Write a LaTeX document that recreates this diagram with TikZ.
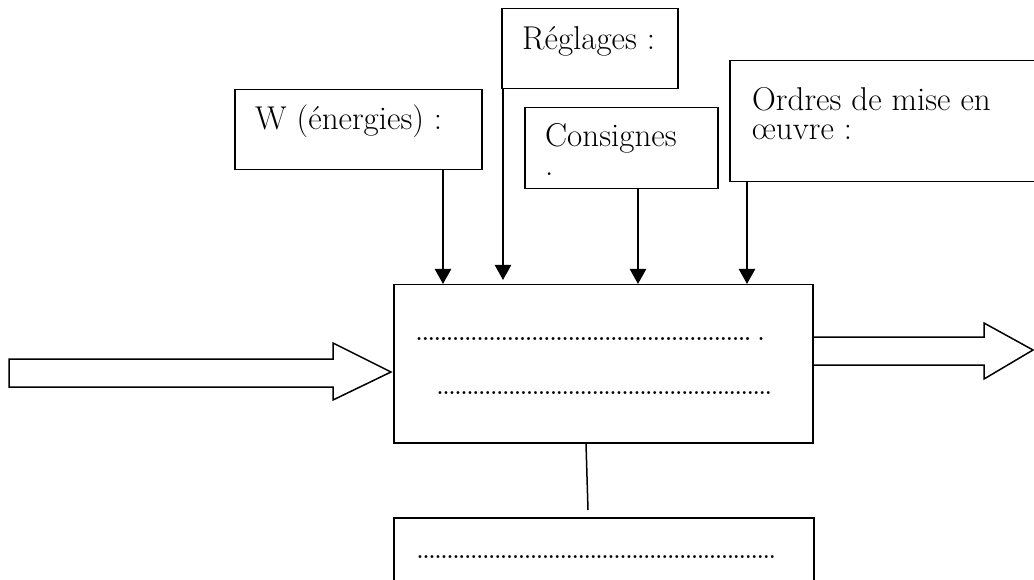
\documentclass[tikz,border=0pt]{standalone}
\usepackage{fontspec}
\usetikzlibrary{arrows.meta,calc}
\tikzset{
  box/.style={draw, line width=1.5pt, rectangle, inner sep=0pt, anchor=north west},
  lbl/.style={font=\fontsize{33}{29}\selectfont, inner sep=0pt, align=left, anchor=base west},
  arr/.style={line width=2.4pt, -{Triangle[width=16pt,length=15pt]}},
  hollow/.style={draw, line width=1.5pt, line join=miter},
  link/.style={draw, line width=1.5pt},
  dotrow/.style={inner sep=0pt, anchor=west, font=\bfseries}
}
\begin{document}
\begin{tikzpicture}[x=1pt,y=-1pt]
\useasboundingbox (0,0) rectangle (1034,580);
\clip (0,0) rectangle (1034,580);
\fill[white] (0,0) rectangle (1034,580);
% boxes
\node[box, minimum width=419pt, minimum height=158pt] (main) at (393,284) {};
\node[box, minimum width=247pt, minimum height=80pt] (wbox) at (234,89) {};
\node[box, minimum width=176pt, minimum height=80pt] (reg) at (501,8) {};
\node[box, minimum width=193pt, minimum height=81pt] (cons) at (524,107) {};
\node[box, minimum width=320pt, minimum height=121pt] (ord) at (729,60) {};
\node[box, minimum width=420pt, minimum height=90pt] (bot) at (393,517) {};
% labels (base = baseline of last line)
\node[lbl] (tw) at (255,130) {W (énergies) :};
\node[lbl] (tr) at (522,50) {Réglages :};
\node[lbl] (tc) at (545,176) {Consignes\\.};
\node[lbl] (to) at (752,140) {Ordres de mise en\\œuvre :};
% dotted texts
\node[dotrow] (d1) at (416,339) {\resizebox{348pt}{!}{.......................................................\ .}};
\node[dotrow] (d2) at (437,393) {\resizebox{334pt}{!}{........................................................}};
\node[dotrow] (d3) at (417,557) {\resizebox{358pt}{!}{............................................................}};
% vertical arrows
\coordinate (x1) at (443,0);
\coordinate (x2) at (503,0);
\coordinate (x3) at (638,0);
\coordinate (x4) at (747,0);
\draw[arr] (wbox.south -| x1) -- (main.north -| x1);
\draw[arr] (reg.south -| x2) -- ($(main.north -| x2)+(0,-4)$);
\draw[arr] (cons.south -| x3) -- (main.north -| x3);
\draw[arr] (ord.south -| x4) -- (main.north -| x4);
% link to bottom box
\coordinate (c1) at (586,0);
\coordinate (c2) at (588,0);
\draw[link] (main.south -| c1) -- ($(bot.north -| c2)+(0,-7)$);
% hollow input arrow
\coordinate (inTail) at (9,373);
\coordinate (inTip) at (391,372);
\draw[hollow] ($(inTail)+(0,-14)$) -- ($(inTip)+(-58,-13)$) -- ($(inTip)+(-58,-29)$) -- (inTip)
  -- ($(inTip)+(-58,28)$) -- ($(inTip)+(-58,15)$) -- ($(inTail)+(0,14)$) -- cycle;
% hollow output arrow
\coordinate (outTip) at (1033,350);
\coordinate (outTail) at (main.east |- outTip);
\draw[hollow] ($(outTail)+(0,-13)$) -- ($(outTip)+(-49,-13)$) -- ($(outTip)+(-49,-27)$) -- (outTip)
  -- ($(outTip)+(-49,29)$) -- ($(outTip)+(-49,15)$) -- ($(outTail)+(0,15)$);
\end{tikzpicture}
\end{document}
